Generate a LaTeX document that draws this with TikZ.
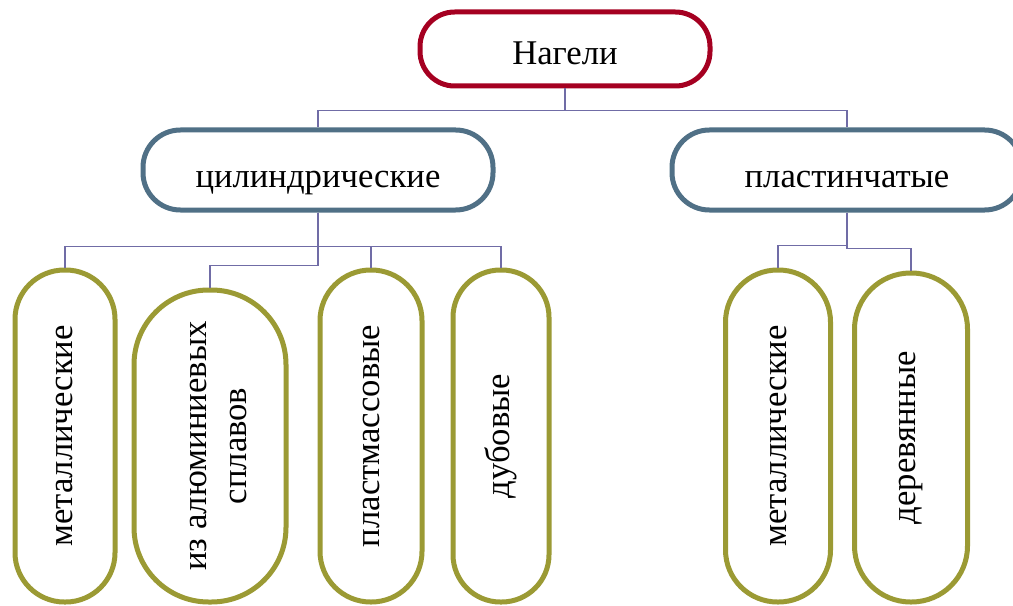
\documentclass[tikz,border=0pt]{standalone}
\usepackage{fontspec}
\setmainfont{Liberation Serif}
\usepackage{tikz}
\usetikzlibrary{positioning,calc}
\usepackage{xcolor}
\definecolor{rootred}{RGB}{165, 0, 33}
\definecolor{midblue}{RGB}{80, 112, 134}
\definecolor{leafolive}{RGB}{155, 154, 52}
\definecolor{linkviolet}{RGB}{112, 108, 166}

\begin{document}
\begin{tikzpicture}[x=0.75pt,y=-0.75pt,
    every node/.style={font=\fontsize{26}{30}\selectfont, inner sep=0pt, fill=white, align=center},
    rootbox/.style={draw=rootred, line width=3.75pt, rounded corners=26pt, minimum width=217.5pt, minimum height=55.5pt, text height=24pt, text depth=0pt},
    midbox/.style={draw=midblue, line width=3.75pt, rounded corners=28pt, minimum width=262.5pt, minimum height=60pt, text height=25.5pt, text depth=0pt},
    leafbox/.style={draw=leafolive, line width=3.75pt, rotate=90},
    link/.style={draw=linkviolet, line width=1pt}]
    \useasboundingbox (0,0) rectangle (1013,606);

    % Top level
    \node[rootbox] (root) at (565,49) {Нагели};

    % Second level
    \node[midbox] (cyl) at (318,170) {цилиндрические};
    \node[midbox] (plast) at (847,170) {пластинчатые};

    % Leaves
    \node[leafbox, minimum width=249pt, minimum height=75pt, rounded corners=37pt] (met1) at (65,436) {металлические};
    \node[leafbox, minimum width=234pt, minimum height=114pt, rounded corners=56pt] (alum) at (210,446) {\rule{0pt}{25pt}из алюминиевых\\сплавов};
    \node[leafbox, minimum width=249pt, minimum height=76.5pt, rounded corners=38pt] (plastm) at (371,436) {пластмассовые};
    \node[leafbox, minimum width=249pt, minimum height=72pt, rounded corners=35.5pt] (dub) at (501,436) {дубовые};
    \node[leafbox, minimum width=249pt, minimum height=78.75pt, rounded corners=39pt] (met2) at (778,436) {металлические};
    \node[leafbox, minimum width=246.75pt, minimum height=84.75pt, rounded corners=42pt] (wood) at (911,437.5) {деревянные};

    % Connectors
    \draw[link] (root.south) -- ++(0,22) -| (cyl.north);
    \draw[link] (root.south) -- ++(0,22) -| (plast.north);
    \draw[link] (cyl.south) -- ++(0,34) -| (met1.east);
    \draw[link] (cyl.south) -- ++(0,34) -| (plastm.east);
    \draw[link] (cyl.south) -- ++(0,34) -| (dub.east);
    \draw[link] (cyl.south) -- ++(0,53) -| (alum.east);
    \draw[link] (plast.south) -- ++(0,33) -| (met2.east);
    \draw[link] (plast.south) -- ++(0,36) -| (wood.east);
\end{tikzpicture}
\end{document}
